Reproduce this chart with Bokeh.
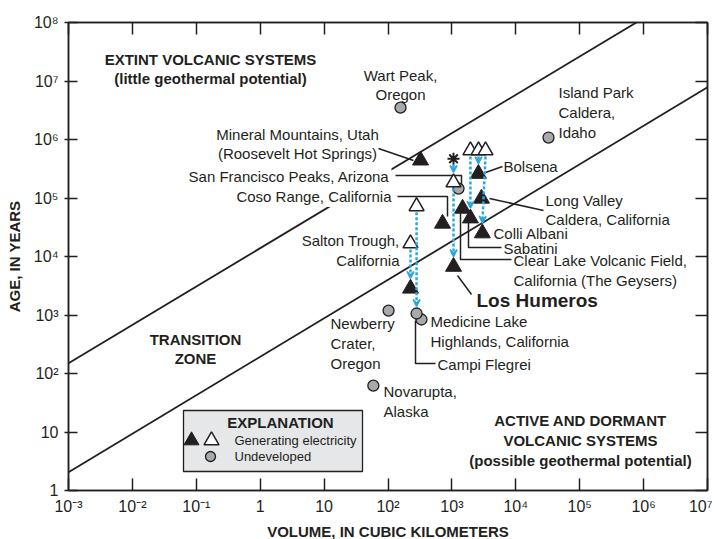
from bokeh.plotting import figure
from bokeh.models import (FixedTicker, LogAxis, CustomJSTickFormatter, Arrow, VeeHead,
                          ColumnDataSource, Range1d)
from bokeh.embed import file_html
from bokeh.resources import INLINE
from bokeh.core.properties import value

# ---------------- data ----------------
x_ticks = [1e-3, 1e-2, 1e-1, 1, 10, 1e2, 1e3, 1e4, 1e5, 1e6, 1e7]
x_tick_labels = ["10⁻³", "10⁻²", "10⁻¹", "1", "10", "10²", "10³", "10⁴", "10⁵", "10⁶", "10⁷"]
y_ticks = [1, 10, 1e2, 1e3, 1e4, 1e5, 1e6, 1e7, 1e8]
y_tick_labels = ["1", "10", "10²", "10³", "10⁴", "10⁵", "10⁶", "10⁷", "10⁸"]

# Generating electricity (current estimates, black triangles)
gen_names = ["Mineral Mountains", "Coso Range", "Salton Trough", "Los Humeros", "Bolsena",
             "Long Valley", "Clear Lake", "Sabatini", "Colli Albani"]
gen_volume = [323, 713, 225, 1060, 2600, 2900, 1470, 1950, 3000]
gen_age = [4.4e5, 3.66e4, 2840, 6.7e3, 2.6e5, 9.8e4, 6.6e4, 4.5e4, 2.5e4]

# Generating electricity (earlier estimates, white triangles)
prev_names = ["Medicine Lake", "Salton Trough", "Los Humeros", "Sabatini", "Bolsena", "Colli Albani"]
prev_volume = [280, 225, 1060, 1950, 2610, 3360]
prev_age = [7.2e4, 1.67e4, 1.84e5, 6.5e5, 6.5e5, 6.5e5]

# Undeveloped (gray circles)
undev_names = ["Wart Peak", "Island Park", "San Francisco Peaks", "Newberry", "Medicine Lake",
               "Campi Flegrei", "Novarupta"]
undev_volume = [157, 32500, 1270, 102, 334, 280, 59]
undev_age = [3.5e6, 1.08e6, 1.45e5, 1190, 838, 1060, 62]

# Asterisk (initial Los Humeros estimate)
star_volume = [1060]
star_age = [4.7e5]

# Revisions (blue dashed arrows)
arrow_from_volume = [1060, 1060, 280, 225, 1950, 2610, 3360]
arrow_from_age = [4.7e5, 1.84e5, 7.2e4, 1.67e4, 6.5e5, 6.5e5, 6.5e5]
arrow_to_volume = [1060, 1060, 280, 225, 1950, 2600, 3000]
arrow_to_age = [1.84e5, 6.7e3, 1060, 2840, 4.5e4, 2.6e5, 2.5e4]

# Boundary lines
upper_volume = [1e-3, 7.7e5]
upper_age = [150, 1e8]
lower_volume = [1e-3, 1e7]
lower_age = [2.05, 7.8e6]

# ---------------- layout helpers (reference pixel -> data) ----------------
def X(px):
    return 10 ** (-3 + (px - 68) / 63.9)

def Y(py):
    return 10 ** ((490 - py) / 58.5)

INK = "#231f20"
BLUE = "#29a8e0"
FONT = value("Liberation Sans")

p = figure(x_axis_type="log", y_axis_type="log",
           x_range=Range1d(1e-3, 1e7), y_range=Range1d(1, 1e8),
           frame_width=639, frame_height=468,
           min_border_left=68, min_border_right=5, min_border_top=22, min_border_bottom=48,
           toolbar_location=None, output_backend="svg",
           background_fill_color="white", border_fill_color="white",
           outline_line_color=INK, outline_line_width=1.5)
p.grid.visible = False

fmt_code = """
let best = 0, bd = 1e9;
const lt = Math.log10(tick);
for (let i = 0; i < tvals.length; i++) {
  const d = Math.abs(Math.log10(tvals[i]) - lt);
  if (d < bd) { bd = d; best = i; }
}
return tlabels[best];
"""

xa = p.xaxis[0]
xa.ticker = FixedTicker(ticks=x_ticks)
xa.formatter = CustomJSTickFormatter(args=dict(tvals=x_ticks, tlabels=x_tick_labels), code=fmt_code)
xa.axis_label = "VOLUME, IN CUBIC KILOMETERS"
xa.major_tick_in = 12
xa.major_tick_out = 0
xa.major_label_standoff = 7
xa.axis_label_standoff = 5

ya = p.yaxis[0]
ya.ticker = FixedTicker(ticks=y_ticks)
ya.formatter = CustomJSTickFormatter(args=dict(tvals=y_ticks, tlabels=y_tick_labels), code=fmt_code)
ya.axis_label = "AGE, IN YEARS"
ya.major_tick_in = 9
ya.major_tick_out = 4
ya.major_label_standoff = 6
ya.axis_label_standoff = 8

for ax in (xa, ya):
    ax.minor_tick_line_color = None
    ax.axis_line_color = INK
    ax.axis_line_width = 1.5
    ax.major_tick_line_color = INK
    ax.major_tick_line_width = 1.5
    ax.major_label_text_font = "Liberation Sans"
    ax.major_label_text_font_size = "16px"
    ax.major_label_text_color = INK
    ax.axis_label_text_font = "Liberation Sans"
    ax.axis_label_text_font_size = "15px"
    ax.axis_label_text_font_style = "bold"
    ax.axis_label_text_color = INK

top = LogAxis(ticker=FixedTicker(ticks=x_ticks), major_tick_in=12, major_tick_out=0,
              major_label_text_font_size="1px", major_label_text_color=None,
              major_label_standoff=0,
              minor_tick_line_color=None, axis_line_color=INK, axis_line_width=1.5,
              major_tick_line_color=INK, major_tick_line_width=1.5)
right = LogAxis(ticker=FixedTicker(ticks=y_ticks), major_tick_in=12, major_tick_out=0,
                major_label_text_font_size="1px", major_label_text_color=None,
                major_label_standoff=0,
                minor_tick_line_color=None, axis_line_color=INK, axis_line_width=1.5,
                major_tick_line_color=INK, major_tick_line_width=1.5)
p.add_layout(top, "above")
p.add_layout(right, "right")

# boundary lines
p.line(upper_volume, upper_age, line_color=INK, line_width=1.8)
p.line(lower_volume, lower_age, line_color=INK, line_width=1.8)

# leader lines (layout, reference pixels)
leaders_px = [
    [(378, 148), (413, 160)],
    [(395, 175), (461, 175), (461, 186)],
    [(397, 196), (447, 196), (447, 216)],
    [(502, 166), (485, 172)],
    [(543, 210), (489, 198)],
    [(468, 222), (468, 247), (501, 247)],
    [(460, 212), (460, 259), (511, 259)],
    [(471, 294), (457, 275)],
    [(415, 320), (415, 363), (435, 363)],
]
p.multi_line(xs=[[X(a) for a, b in seg] for seg in leaders_px],
             ys=[[Y(b) for a, b in seg] for seg in leaders_px],
             line_color=INK, line_width=1.5)

# region labels
region_src = ColumnDataSource(dict(
    x=[X(210), X(195), X(580)],
    y=[Y(68.5), Y(348.5), Y(440)],
    t=["EXTINT VOLCANIC SYSTEMS\n(little geothermal potential)",
       "TRANSITION\nZONE",
       "ACTIVE AND DORMANT\nVOLCANIC SYSTEMS\n(possible geothermal potential)"]))
p.text(x="x", y="y", text="t", source=region_src, text_font=FONT, text_font_size="15px",
       text_font_style="bold", text_color=INK, text_align="center", text_baseline="middle",
       text_line_height=1.15)

# point labels
def labels(items, align, size="15px", style="normal", bg=None):
    src = ColumnDataSource(dict(x=[X(i[1]) for i in items], y=[Y(i[2]) for i in items],
                                t=[i[0] for i in items]))
    kw = {}
    if bg:
        kw = dict(background_fill_color=bg, padding=2)
    p.text(x="x", y="y", text="t", source=src, text_font=FONT, text_font_size=size,
           text_font_style=style, text_color=INK, text_align=align, text_baseline="middle",
           text_line_height=1.15, **kw)

labels([("Wart Peak,\nOregon", 400, 84.5),
        ("Mineral Mountains, Utah\n(Roosevelt Hot Springs)", 297, 143.5)], "center")
labels([("Island Park\nCaldera,\nIdaho", 558, 112),
        ("Bolsena", 503, 166),
        ("Long Valley\nCaldera, California", 545, 209.5),
        ("Colli Albani", 493, 233),
        ("Sabatini", 503, 248),
        ("Clear Lake Volcanic Field,\nCalifornia (The Geysers)", 513, 270),
        ("Newberry\nCrater,\nOregon", 330, 343),
        ("Medicine Lake\nHighlands, California", 430, 331),
        ("Campi Flegrei", 437, 364),
        ("Novarupta,\nAlaska", 383, 401)], "left")
labels([("Salton Trough,\nCalifornia", 399, 250)], "right")
labels([("San Francisco Peaks, Arizona", 391, 176),
        ("Coso Range, California", 393, 196)], "right", bg="white")
labels([("Los Humeros", 476, 300)], "left", size="19px", style="bold")

# markers
p.scatter(undev_volume, undev_age, marker="circle", size=11, fill_color="#a7a9ac",
          line_color=INK, line_width=1.3)
p.scatter(prev_volume, prev_age, marker="triangle", size=15, fill_color="white",
          line_color=INK, line_width=1.5)
p.scatter(gen_volume, gen_age, marker="triangle", size=16, fill_color=INK,
          line_color=INK, line_width=1)
p.scatter(star_volume, star_age, marker="asterisk", size=12, line_color=INK, line_width=2)

# arrows (small pixel gaps so heads stop at the marker edge)
start_gap = [6, 6, 6, 6, 6, 6, 6]
end_gap = [10, 10, 7, 10, 10, 10, 10]
arr_src = ColumnDataSource(dict(
    x0=arrow_from_volume,
    y0=[a / 10 ** (g / 58.5) for a, g in zip(arrow_from_age, start_gap)],
    x1=arrow_to_volume,
    y1=[a * 10 ** (g / 58.5) for a, g in zip(arrow_to_age, end_gap)]))
p.add_layout(Arrow(end=VeeHead(size=7, fill_color=BLUE, line_color=BLUE, line_width=1.5),
                   x_start="x0", y_start="y0", x_end="x1", y_end="y1", source=arr_src,
                   line_color=BLUE, line_width=2.5, line_dash="3 2"))

# explanation box
p.quad(left=[X(183)], right=[X(362)], top=[Y(410)], bottom=[Y(471)],
       fill_color="#e6e7e8", line_color=INK, line_width=1.3)
p.text(x=[X(280)], y=[Y(422)], text=["EXPLANATION"], text_font=FONT, text_font_size="15px",
       text_font_style="bold", text_color=INK, text_align="center", text_baseline="middle")
p.scatter([X(191)], [Y(440)], marker="triangle", size=15, fill_color=INK, line_color=INK)
p.scatter([X(211)], [Y(440)], marker="triangle", size=15, fill_color="white", line_color=INK,
          line_width=1.5)
p.scatter([X(210)], [Y(456)], marker="circle", size=10, fill_color="#a7a9ac", line_color=INK,
          line_width=1.3)
p.text(x=[X(234), X(234)], y=[Y(440), Y(456)], text=["Generating electricity", "Undeveloped"],
       text_font=FONT, text_font_size="13px", text_color=INK, text_align="left",
       text_baseline="middle")

open("out.html", "w").write(file_html(p, INLINE))
